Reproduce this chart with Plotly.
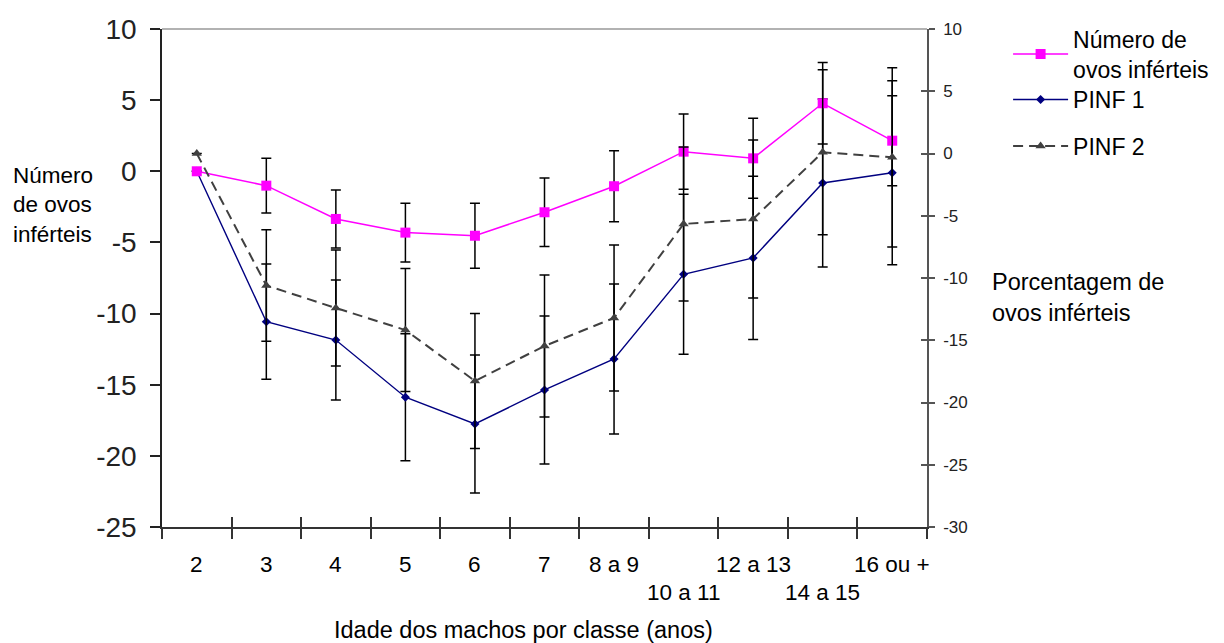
import plotly.graph_objects as go

# ---- data ----
categories = ["2", "3", "4", "5", "6", "7", "8 a 9", "10 a 11", "12 a 13", "14 a 15", "16 ou +"]
num_ovos = [0, -1.01, -3.35, -4.31, -4.53, -2.88, -1.05, 1.38, 0.91, 4.78, 2.15]
num_ovos_err = [0, 1.92, 2.04, 2.07, 2.28, 2.41, 2.49, 2.64, 2.81, 2.87, 3.16]
pinf1 = [0, -10.57, -11.86, -15.88, -17.76, -15.37, -13.19, -7.24, -6.09, -0.82, -0.10]
pinf1_err = [0, 4.05, 4.22, 4.46, 4.85, 5.20, 5.27, 5.62, 5.74, 5.90, 6.47]
pinf2 = [0, -10.60, -12.41, -14.18, -18.27, -15.46, -13.21, -5.66, -5.26, 0.10, -0.31]
pinf2_err = [0, 4.48, 4.66, 4.94, 5.42, 5.70, 5.86, 6.18, 6.35, 6.63, 7.19]
left_ticks = [10, 5, 0, -5, -10, -15, -20, -25]
right_ticks = [10, 5, 0, -5, -10, -15, -20, -25, -30]

# ---- styling ----
label_low = [False, False, False, False, False, False, False, True, False, True, False]
FONT = "Liberation Sans, Arial, sans-serif"
x_pos = list(range(len(categories)))
boundaries = [i - 0.5 for i in range(len(categories) + 1)]
xr = [boundaries[0], boundaries[-1]]

err_style = dict(type="data", visible=True, color="black", thickness=1.5, width=5)
leg_font = dict(family=FONT, size=23, color="black")
LEG_X = 1.106

fig = go.Figure()
fig.add_trace(go.Scatter(
    x=x_pos, y=pinf1, name="PINF 1", yaxis="y", mode="lines+markers",
    line=dict(color="#000080", width=1.4),
    marker=dict(symbol="diamond", size=7, color="#000080"),
    error_y=dict(array=pinf1_err, **err_style), legend="legend2"))
fig.add_trace(go.Scatter(
    x=x_pos, y=num_ovos, name="Número de<br>ovos inférteis", yaxis="y", mode="lines+markers",
    line=dict(color="#FF00FF", width=1.5),
    marker=dict(symbol="square", size=10, color="#FF00FF"),
    error_y=dict(array=num_ovos_err, **err_style), legend="legend"))
fig.add_trace(go.Scatter(
    x=x_pos, y=pinf2, name="PINF 2", yaxis="y2", mode="lines+markers",
    line=dict(color="#404040", width=2, dash="10px,6px"),
    marker=dict(symbol="triangle-up", size=9, color="#404040"),
    error_y=dict(array=pinf2_err, **err_style), legend="legend3"))
# invisible helper so the inside-tick overlay axes are drawn
fig.add_trace(go.Scatter(x=[None], y=[None], xaxis="x2", yaxis="y3",
                         showlegend=False, hoverinfo="skip"))

annotations = []
for i, lab in enumerate(categories):
    annotations.append(dict(
        x=x_pos[i], xref="x", y=-0.1325 if label_low[i] else -0.0763, yref="paper",
        text=lab, showarrow=False, xanchor="center", yanchor="middle",
        font=dict(family=FONT, size=22.5, color="black")))
annotations += [
    dict(x=-0.198, y=0.6466, xref="paper", yref="paper", xanchor="left", yanchor="middle",
         align="left", text="Número<br>de ovos<br>inférteis", showarrow=False,
         font=dict(family=FONT, size=22.5, color="black")),
    dict(x=1.0824, y=0.46, xref="paper", yref="paper", xanchor="left", yanchor="middle",
         align="left", text="Porcentagem de<br>ovos inférteis", showarrow=False,
         font=dict(family=FONT, size=23.5, color="black")),
    dict(x=0.472, y=-0.206, xref="paper", yref="paper", xanchor="center", yanchor="middle",
         text="Idade dos machos por classe (anos)", showarrow=False,
         font=dict(family=FONT, size=23.5, color="black")),
]

legend_common = dict(xanchor="left", yanchor="middle", font=leg_font,
                     bgcolor="rgba(0,0,0,0)", itemwidth=55)

fig.update_layout(
    width=1224, height=643, autosize=False,
    margin=dict(l=162, r=297, t=29, b=116, autoexpand=False),
    paper_bgcolor="white", plot_bgcolor="white",
    font=dict(family=FONT, color="black"),
    showlegend=True,
    legend=dict(x=LEG_X, y=0.9498, **legend_common),
    legend2=dict(x=LEG_X, y=0.8584, **legend_common),
    legend3=dict(x=LEG_X, y=0.765, **legend_common),
    xaxis=dict(range=xr, tickvals=boundaries, ticktext=[""] * len(boundaries),
               ticks="outside", ticklen=10, tickwidth=1.5, tickcolor="#333",
               showline=True, linecolor="#333", linewidth=1.5,
               showgrid=False, zeroline=False, fixedrange=True),
    xaxis2=dict(overlaying="x", anchor="y", side="bottom", range=xr, tickvals=boundaries,
                ticktext=[""] * len(boundaries), ticks="inside", ticklen=10, tickwidth=1.5,
                tickcolor="#333", showline=False, showgrid=False, zeroline=False,
                showticklabels=False),
    yaxis=dict(range=[left_ticks[-1], left_ticks[0]], tickvals=left_ticks,
               ticktext=[str(v) for v in left_ticks],
               ticks="outside", ticklen=10, tickwidth=1.5, tickcolor="#222",
               tickfont=dict(family=FONT, size=28, color="#222"), ticklabelstandoff=8,
               showline=True, linecolor="#222", linewidth=1.5,
               showgrid=False, zeroline=False),
    yaxis2=dict(overlaying="y", side="right", anchor="x",
                range=[right_ticks[-1], right_ticks[0]], tickvals=right_ticks,
                ticktext=[str(v) for v in right_ticks],
                ticks="outside", ticklen=6, tickwidth=1.5, tickcolor="#555",
                tickfont=dict(family=FONT, size=17, color="#222"), ticklabelstandoff=5,
                showline=True, linecolor="#555", linewidth=1.5,
                showgrid=False, zeroline=False),
    yaxis3=dict(overlaying="y", side="right", anchor="x",
                range=[right_ticks[-1], right_ticks[0]], tickvals=right_ticks,
                ticks="inside", ticklen=6, tickwidth=1.5, tickcolor="#555",
                showticklabels=False, showline=False, showgrid=False, zeroline=False),
    shapes=[dict(type="line", xref="paper", yref="paper", x0=0, x1=1, y0=1, y1=1,
                 line=dict(color="#999", width=1.5))],
    annotations=annotations,
)

fig.write_html("out.html")
